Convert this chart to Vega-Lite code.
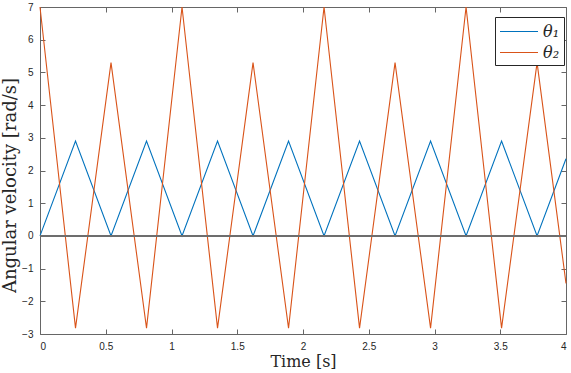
{
  "$schema": "https://vega.github.io/schema/vega-lite/v6.json",
  "width": 526,
  "height": 327,
  "autosize": {"type": "none"},
  "padding": {"left": 40, "top": 7, "right": 5, "bottom": 39},
  "background": "white",
  "config": {
    "view": {"stroke": "#666666", "strokeWidth": 1},
    "axis": {
      "domain": false,
      "grid": false,
      "labelFont": "Liberation Sans",
      "labelFontSize": 10,
      "labelColor": "#262626",
      "tickColor": "#666666",
      "tickSize": -5,
      "titleFont": "DejaVu Serif",
      "titleFontWeight": "normal",
      "titleColor": "#262626"
    }
  },
  "data": {
    "values": [
      {"t": 0, "v": 0, "series": "θ₁"},
      {"t": 0.27, "v": 2.9, "series": "θ₁"},
      {"t": 0.54, "v": 0, "series": "θ₁"},
      {"t": 0.81, "v": 2.9, "series": "θ₁"},
      {"t": 1.08, "v": 0, "series": "θ₁"},
      {"t": 1.35, "v": 2.9, "series": "θ₁"},
      {"t": 1.62, "v": 0, "series": "θ₁"},
      {"t": 1.89, "v": 2.9, "series": "θ₁"},
      {"t": 2.16, "v": 0, "series": "θ₁"},
      {"t": 2.43, "v": 2.9, "series": "θ₁"},
      {"t": 2.70, "v": 0, "series": "θ₁"},
      {"t": 2.97, "v": 2.9, "series": "θ₁"},
      {"t": 3.24, "v": 0, "series": "θ₁"},
      {"t": 3.51, "v": 2.9, "series": "θ₁"},
      {"t": 3.78, "v": 0, "series": "θ₁"},
      {"t": 4.0, "v": 2.36, "series": "θ₁"},
      {"t": 0, "v": 7, "series": "θ₂"},
      {"t": 0.27, "v": -2.82, "series": "θ₂"},
      {"t": 0.54, "v": 5.3, "series": "θ₂"},
      {"t": 0.81, "v": -2.82, "series": "θ₂"},
      {"t": 1.08, "v": 7, "series": "θ₂"},
      {"t": 1.35, "v": -2.82, "series": "θ₂"},
      {"t": 1.62, "v": 5.3, "series": "θ₂"},
      {"t": 1.89, "v": -2.82, "series": "θ₂"},
      {"t": 2.16, "v": 7, "series": "θ₂"},
      {"t": 2.43, "v": -2.82, "series": "θ₂"},
      {"t": 2.70, "v": 5.3, "series": "θ₂"},
      {"t": 2.97, "v": -2.82, "series": "θ₂"},
      {"t": 3.24, "v": 7, "series": "θ₂"},
      {"t": 3.51, "v": -2.82, "series": "θ₂"},
      {"t": 3.78, "v": 5.3, "series": "θ₂"},
      {"t": 4.0, "v": -1.45, "series": "θ₂"}
    ]
  },
  "resolve": {"axis": {"x": "independent", "y": "independent"}},
  "layer": [
    {
      "mark": {"type": "line", "strokeWidth": 1.1},
      "encoding": {
        "x": {
          "field": "t", "type": "quantitative",
          "scale": {"domain": [0, 4], "nice": false, "zero": false},
          "axis": {
            "orient": "bottom",
            "values": [0, 0.5, 1, 1.5, 2, 2.5, 3, 3.5, 4],
            "format": "~g",
            "labelPadding": 12,
            "title": "Time [s]",
            "titleFontSize": 16,
            "titleBaseline": "alphabetic",
            "titleY": 32
          }
        },
        "y": {
          "field": "v", "type": "quantitative",
          "scale": {"domain": [-3, 7], "nice": false, "zero": false},
          "axis": {
            "orient": "left",
            "values": [-3, -2, -1, 0, 1, 2, 3, 4, 5, 6, 7],
            "format": "~g",
            "labelPadding": 12,
            "title": "Angular velocity [rad/s]",
            "titleFontSize": 18,
            "titleBaseline": "bottom",
            "titleX": -21,
            "titleY": 178
          }
        },
        "color": {
          "field": "series", "type": "nominal",
          "scale": {"domain": ["θ₁", "θ₂"], "range": ["#0072BD", "#D95319"]},
          "legend": {
            "orient": "none",
            "legendX": 455,
            "legendY": 10,
            "title": null,
            "symbolType": "M-1,0H3",
            "symbolSize": 361,
            "symbolStrokeWidth": 1.1,
            "labelOffset": 23,
            "labelFont": "DejaVu Serif",
            "labelFontStyle": "italic",
            "labelFontSize": 16,
            "labelColor": "#262626",
            "padding": 4,
            "rowPadding": 2,
            "strokeColor": "#262626",
            "fillColor": "white"
          }
        }
      }
    },
    {
      "mark": {"type": "line", "opacity": 0},
      "encoding": {
        "x": {
          "field": "t", "type": "quantitative",
          "axis": {"orient": "top", "values": [0, 0.5, 1, 1.5, 2, 2.5, 3, 3.5, 4], "labels": false, "title": null}
        },
        "y": {
          "field": "v", "type": "quantitative",
          "axis": {"orient": "right", "values": [-3, -2, -1, 0, 1, 2, 3, 4, 5, 6, 7], "labels": false, "title": null}
        },
        "detail": {"field": "series", "type": "nominal"}
      }
    },
    {
      "mark": {"type": "rule", "color": "#6e6e6e", "strokeWidth": 1.6},
      "encoding": {
        "y": {"datum": 0, "type": "quantitative", "axis": null}
      }
    }
  ]
}
